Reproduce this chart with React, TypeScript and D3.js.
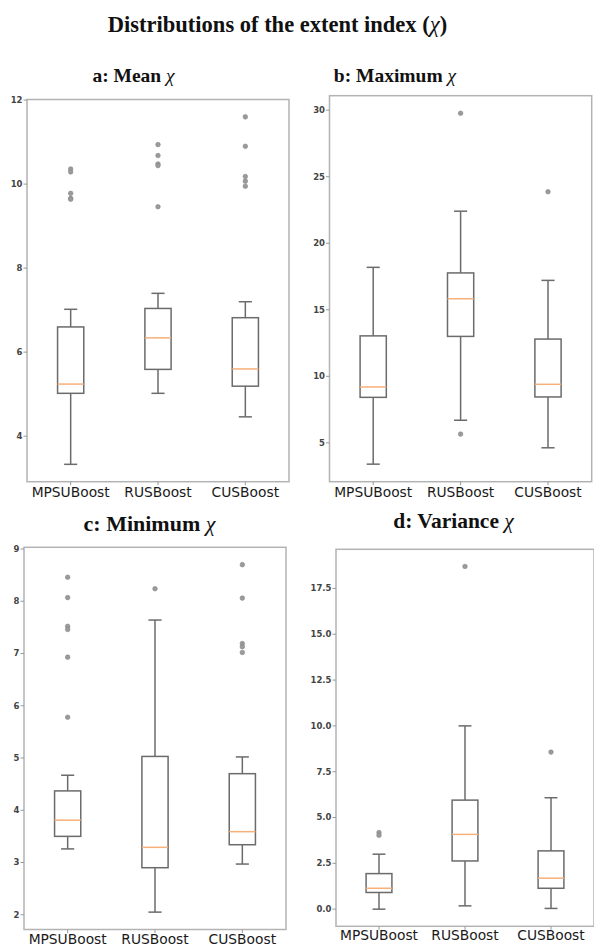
import React from "react";
import * as d3 from "d3";

const methods = ["MPSUBoost", "RUSBoost", "CUSBoost"];

// [whisker low, q1, median, q3, whisker high]
const meanStats = [
  [3.33, 5.02, 5.24, 6.6, 7.02],
  [5.02, 5.59, 6.34, 7.04, 7.4],
  [4.46, 5.19, 5.6, 6.82, 7.2],
];
const meanFliers = [
  [10.36, 10.29, 9.78, 9.66, 9.64],
  [10.94, 10.68, 10.48, 10.44, 9.46],
  [11.6, 10.9, 10.18, 10.07, 9.95],
];
const meanTicks = [4, 6, 8, 10, 12];

const maxStats = [
  [3.4, 8.42, 9.2, 13.04, 18.19],
  [6.7, 13.0, 15.83, 17.77, 22.41],
  [4.63, 8.45, 9.4, 12.8, 17.21],
];
const maxFliers = [[], [29.77, 5.66], [23.87]];
const maxTicks = [5, 10, 15, 20, 25, 30];

const minStats = [
  [3.26, 3.5, 3.81, 4.37, 4.67],
  [2.05, 2.9, 3.29, 5.03, 7.64],
  [2.97, 3.34, 3.59, 4.7, 5.02],
];
const minFliers = [
  [8.46, 8.07, 7.52, 7.46, 6.93, 5.78],
  [8.24],
  [8.7, 8.06, 7.19, 7.13, 7.02],
];
const minTicks = [2, 3, 4, 5, 6, 7, 8, 9];

const varStats = [
  [0.0, 0.91, 1.14, 1.94, 3.0],
  [0.18, 2.63, 4.08, 5.95, 10.0],
  [0.04, 1.14, 1.69, 3.18, 6.08],
];
const varFliers = [[4.18, 4.03], [18.7], [8.57]];
const varTicks = [0, 2.5, 5, 7.5, 10, 12.5, 15, 17.5];

const panels = [
  { title: "a: Mean ", stats: meanStats, fliers: meanFliers, ticks: meanTicks, fmt: "d",
    l: 27, r: 289, t: 99.5, b: 481.7, tx: 133.5, ty: 81.5, ts: 19.5, ly: 496.5 },
  { title: "b: Maximum ", stats: maxStats, fliers: maxFliers, ticks: maxTicks, fmt: "d",
    l: 329.5, r: 591.7, t: 95.7, b: 481.7, tx: 395, ty: 81.5, ts: 19.5, ly: 496.5 },
  { title: "c: Minimum ", stats: minStats, fliers: minFliers, ticks: minTicks, fmt: "d",
    l: 24, r: 286, t: 547.3, b: 929.5, tx: 149.5, ty: 530.5, ts: 22, ly: 943.5 },
  { title: "d: Variance ", stats: varStats, fliers: varFliers, ticks: varTicks, fmt: ".1f",
    l: 336, r: 594, t: 549.3, b: 926.3, tx: 453.5, ty: 528, ts: 21.5, ly: 939.5 },
];

const Panel = ({ p }) => {
  const all = [...p.stats.flat(), ...p.fliers.flat()];
  const lo = d3.min(all), hi = d3.max(all);
  const pad = (hi - lo) * 0.05;
  const y = d3.scaleLinear().domain([lo - pad, hi + pad]).range([p.b, p.t]);
  const x = d3.scalePoint().domain(methods).range([p.l, p.r]).padding(0.5);
  const bw = x.step() * 0.3;
  const fmt = d3.format(p.fmt);
  const boxStroke = "#6b6b6b";

  return (
    <g>
      <text x={p.tx} y={p.ty} textAnchor="middle" fontFamily="'Liberation Serif', 'Times New Roman', serif"
        fontWeight="bold" fontSize={p.ts} fill="#111">
        {p.title}<tspan fontStyle="italic" fontWeight="normal">χ</tspan>
      </text>
      <rect x={p.l} y={p.t} width={p.r - p.l} height={p.b - p.t} fill="#fff" stroke="#b3b3b3" strokeWidth={1.5} />
      {p.ticks.map((v) => (
        <g key={v}>
          <line x1={p.l - 3.5} x2={p.l} y1={y(v)} y2={y(v)} stroke="#999" strokeWidth={1} />
          <text x={p.l - 4.5} y={y(v)} dy="0.34em" textAnchor="end" fontFamily="'DejaVu Sans', sans-serif"
            fontSize={8.5} fontWeight="bold" fill="#444">{fmt(v)}</text>
        </g>
      ))}
      {methods.map((m, i) => {
        const [wl, q1, med, q3, wh] = p.stats[i];
        const cx = x(m);
        return (
          <g key={m}>
            <line x1={cx} x2={cx} y1={p.b} y2={p.b + 3.5} stroke="#999" strokeWidth={1} />
            <text x={cx} y={p.ly} textAnchor="middle" fontFamily="'DejaVu Sans', sans-serif"
              fontSize={13.8} fill="#1a1a1a">{m}</text>
            <line x1={cx} x2={cx} y1={y(wl)} y2={y(q1)} stroke={boxStroke} strokeWidth={1.5} />
            <line x1={cx} x2={cx} y1={y(q3)} y2={y(wh)} stroke={boxStroke} strokeWidth={1.5} />
            <line x1={cx - bw / 4} x2={cx + bw / 4} y1={y(wl)} y2={y(wl)} stroke={boxStroke} strokeWidth={1.5} />
            <line x1={cx - bw / 4} x2={cx + bw / 4} y1={y(wh)} y2={y(wh)} stroke={boxStroke} strokeWidth={1.5} />
            <rect x={cx - bw / 2} y={y(q3)} width={bw} height={y(q1) - y(q3)} fill="none"
              stroke={boxStroke} strokeWidth={1.5} />
            <line x1={cx - bw / 2} x2={cx + bw / 2} y1={y(med)} y2={y(med)} stroke="#f7b07a" strokeWidth={1.5} />
            {p.fliers[i].map((f, j) => (
              <circle key={j} cx={cx} cy={y(f)} r={2.3} fill="#9a9a9a" stroke="#888" strokeWidth={0.6} />
            ))}
          </g>
        );
      })}
    </g>
  );
};

export default function App() {
  return (
    <svg width={594} height={945} style={{ position: "absolute", left: 0, top: 0, background: "#fff" }}>
      <text x={277.5} y={32} textAnchor="middle" fontFamily="'Liberation Serif', 'Times New Roman', serif"
        fontWeight="bold" fontSize={22.5} fill="#111">
        Distributions of the extent index (<tspan fontStyle="italic" fontWeight="normal">χ</tspan>)
      </text>
      {panels.map((p) => <Panel key={p.title} p={p} />)}
    </svg>
  );
}
